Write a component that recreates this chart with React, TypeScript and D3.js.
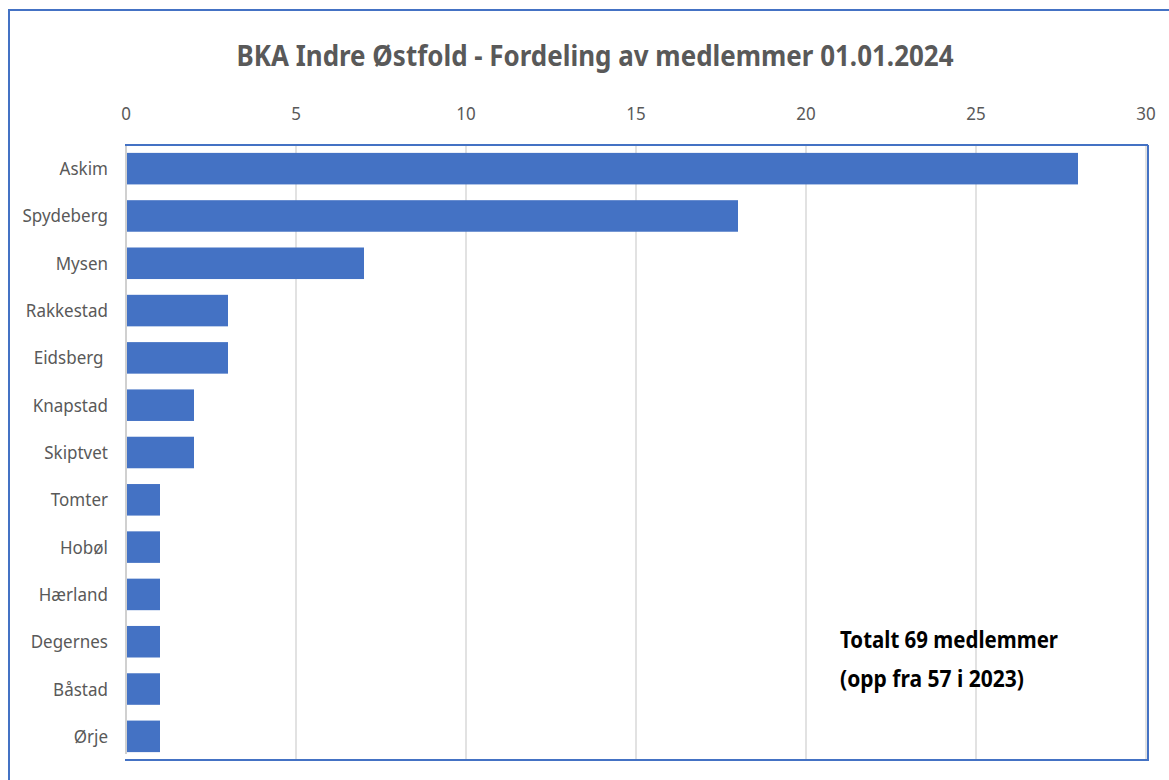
import React from "react";
import * as d3 from "d3";

const categories = ["Askim", "Spydeberg", "Mysen", "Rakkestad", "Eidsberg ", "Knapstad", "Skiptvet", "Tomter", "Hobøl", "Hærland", "Degernes", "Båstad", "Ørje"];
const values = [28, 18, 7, 3, 3, 2, 2, 1, 1, 1, 1, 1, 1];
const xTicks = [0, 5, 10, 15, 20, 25, 30];
const title = "BKA Indre Østfold - Fordeling av medlemmer 01.01.2024";
const noteLines = ["Totalt 69 medlemmer", "(opp fra 57 i 2023)"];

const W = 1169;
const H = 780;
const plot = { left: 126, right: 1146, top: 145, bottom: 760 };
const FONT = "'Noto Sans', 'Open Sans', sans-serif";

export default function App() {
  const x = d3.scaleLinear().domain([0, 30]).range([plot.left, plot.right]);
  const y = d3
    .scaleBand<string>()
    .domain(categories)
    .range([plot.top, plot.bottom])
    .paddingInner(1 / 3)
    .paddingOuter(1 / 6);

  return (
    <svg
      width={W}
      height={H}
      style={{ position: "absolute", left: 0, top: 0, background: "#fff" }}
    >
      <rect x={0} y={0} width={W} height={H} fill="#fff" />
      {/* outer chart border */}
      <rect x={9} y={10} width={W + 20} height={H + 20} fill="none" stroke="#4472c4" strokeWidth={2} />

      {/* title */}
      <text
        x={595}
        y={66}
        textAnchor="middle"
        fontFamily={FONT}
        fontWeight="bold"
        fontSize={29}
        fill="#595959"
        textLength={717}
        lengthAdjust="spacingAndGlyphs"
      >
        {title}
      </text>

      {/* gridlines */}
      {xTicks.slice(1).map((t) => (
        <line key={"g" + t} x1={x(t)} x2={x(t)} y1={plot.top} y2={plot.bottom} stroke="#d9d9d9" strokeWidth={1.5} />
      ))}

      {/* tick labels */}
      {xTicks.map((t) => (
        <g key={"t" + t} transform={`translate(${x(t)},120) scale(0.92,1)`}>
          <text
            x={0}
            y={0}
            textAnchor="middle"
            fontFamily={FONT}
            fontSize={18.5}
            fill="#595959"
          >
            {t}
          </text>
        </g>
      ))}

      {/* bars */}
      {categories.map((c, i) => (
        <rect
          key={c}
          x={x(0)}
          y={y(c)!}
          width={x(values[i]) - x(0)}
          height={y.bandwidth()}
          fill="#4472c4"
        />
      ))}

      {/* category labels */}
      {categories.map((c) => (
        <g key={"l" + c} transform={`translate(108,${y(c)! + y.bandwidth() / 2}) scale(0.92,1)`}>
          <text
            x={0}
            y={0}
            dy="0.35em"
            textAnchor="end"
            fontFamily={FONT}
            fontSize={18.5}
            fill="#595959"
            style={{ whiteSpace: "pre" }}
          >
            {c}
          </text>
        </g>
      ))}

      {/* plot area border */}
      <line x1={plot.left - 1} x2={1148} y1={plot.top} y2={plot.top} stroke="#4472c4" strokeWidth={2} />
      <line x1={1148} x2={1148} y1={plot.top} y2={plot.bottom} stroke="#4472c4" strokeWidth={2} />
      <line x1={plot.left - 1} x2={1149} y1={plot.bottom} y2={plot.bottom} stroke="#4472c4" strokeWidth={2} />
      {/* category axis line */}
      <line x1={plot.left} x2={plot.left} y1={plot.top + 1} y2={plot.bottom - 6} stroke="#d0d0d0" strokeWidth={2} />

      {/* annotation */}
      {noteLines.map((line, i) => (
        <text
          key={"n" + i}
          x={840}
          y={648 + i * 39}
          fontFamily={FONT}
          fontWeight="bold"
          fontSize={23}
          fill="#000"
          textLength={i === 0 ? 218 : 184}
          lengthAdjust="spacingAndGlyphs"
        >
          {line}
        </text>
      ))}
    </svg>
  );
}
